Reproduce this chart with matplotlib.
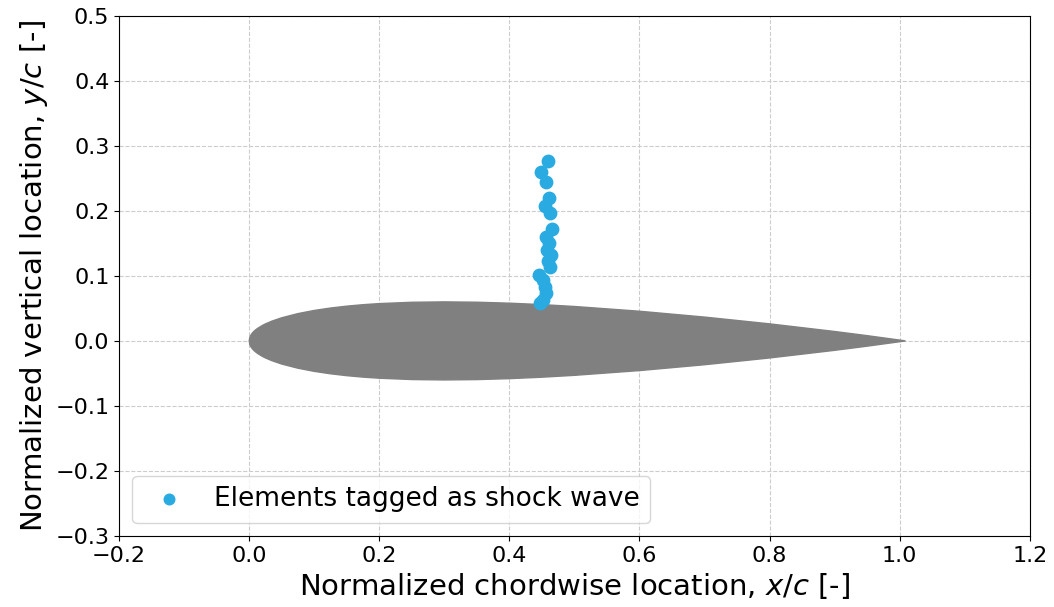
import numpy as np
import matplotlib.pyplot as plt

# NACA 0012 half-thickness stations (x/c, y/c)
foil_x = [0.0, 0.001, 0.0025, 0.005, 0.0075, 0.01, 0.0125, 0.02, 0.025,
          0.035, 0.05, 0.075, 0.1, 0.125, 0.15, 0.175, 0.2, 0.25, 0.3, 0.35,
          0.4, 0.45, 0.5, 0.6, 0.7, 0.8, 0.9, 0.95, 1.0, 1.0089]
foil_y = [0.0, 0.00556, 0.00871, 0.01221, 0.01485, 0.01704, 0.01894, 0.0236,
          0.02615, 0.03043, 0.03555, 0.04200, 0.04683, 0.05055, 0.05345,
          0.05569, 0.05737, 0.05941, 0.06002, 0.05949, 0.05803, 0.05581,
          0.05294, 0.04563, 0.03664, 0.02623, 0.01448, 0.00807, 0.00126, 0.0]

# shock-tagged element centroids
shock_x = [0.459, 0.448, 0.456, 0.461, 0.454, 0.463, 0.465, 0.457, 0.461,
           0.458, 0.464, 0.460, 0.462, 0.446, 0.452, 0.455, 0.457, 0.452,
           0.447]
shock_y = [0.277, 0.259, 0.244, 0.220, 0.207, 0.196, 0.172, 0.160, 0.150,
           0.140, 0.132, 0.123, 0.114, 0.102, 0.094, 0.083, 0.073, 0.063,
           0.058]

fig, ax = plt.subplots(figsize=(10.54, 6.07), dpi=100)
fig.subplots_adjust(left=0.113, right=0.977, top=0.974, bottom=0.117)

# airfoil outline: upper surface forward, lower surface back
outline_x = foil_x + foil_x[::-1]
outline_y = foil_y + [-v for v in foil_y[::-1]]
ax.fill(outline_x, outline_y, color="gray", zorder=2)

ax.scatter(shock_x, shock_y, s=80, color="#29abe2", zorder=3,
           label="Elements tagged as shock wave")

ax.set_xlim(-0.2, 1.2)
ax.set_ylim(-0.3, 0.5)
ax.set_xticks(np.arange(-0.2, 1.21, 0.2))
ax.set_yticks(np.arange(-0.3, 0.51, 0.1))
ax.grid(True, linestyle="--", color="#cccccc", zorder=0)
ax.set_axisbelow(True)
ax.tick_params(labelsize=16)

ax.set_xlabel("Normalized chordwise location, $x/c$ [-]", fontsize=21)
ax.set_ylabel("Normalized vertical location, $y/c$ [-]", fontsize=21)

ax.legend(loc="lower left", fontsize=19, handletextpad=0.7,
          markerscale=0.85)

fig.savefig("out.png")
